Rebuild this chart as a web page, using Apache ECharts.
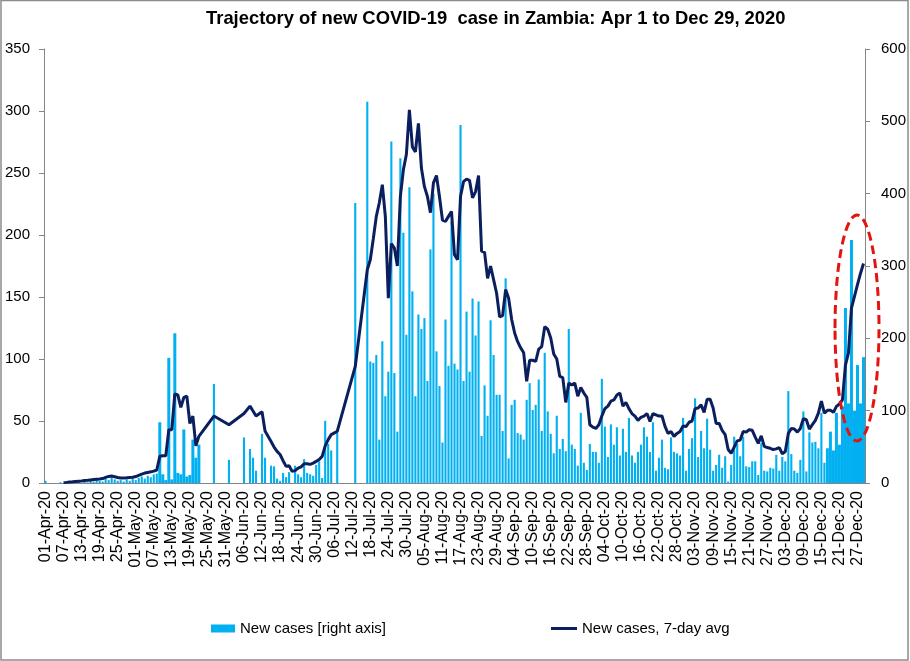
<!DOCTYPE html>
<html>
<head>
<meta charset="utf-8">
<title>Zambia COVID-19</title>
<script src="https://cdn.jsdelivr.net/npm/echarts@6/dist/echarts.min.js"></script>
<style>
    html, body {margin: 0; padding: 0; background: #fff;}
    #chart {width: 910px; height: 661px;}
</style>
</head>
<body>
<div id="chart"></div>
<script>
// daily new cases (right axis), 01-Apr-20 .. 29-Dec-20
var newCases = [
    3, null, null, null, 0, 1, 0, 1, 1, 0,
    3, 2, 0, 2, 1, 3, 2, 4, 3, 2,
    6, 4, 8, 5, 3, 4, 2, 5, 3, 6,
    4, 7, 9, 6, 10, 8, 12, 13, 84, 12,
    4, 173, 5, 207, 14, 12, 74, 9, 11, 60,
    35, 53, null, null, null, null, 137, null, null, null,
    null, 32, null, null, null, null, 63, null, 47, 35,
    17, null, 68, 35, null, 24, 23, 6, 3, 14,
    8, 15, null, 24, 12, 8, 33, 14, 12, 10,
    25, 30, 7, 86, 54, 45, null, 69, null, null,
    null, null, null, 387, null, null, null, 527, 168, 166,
    177, 60, 196, 120, 154, 472, 152, 71, 449, 346,
    205, 409, 265, 120, 233, 213, 228, 141, 323, 400,
    182, 134, 56, 226, 162, 362, 165, 157, 495, 141,
    237, 154, 255, 204, 251, 65, 135, 93, 225, 177,
    122, 122, 72, 283, 34, 108, 115, 69, 67, 60,
    115, 138, 101, 108, 143, 72, 180, 99, 68, 41,
    93, 47, 61, 44, 213, 53, 47, 24, 97, 28,
    18, 54, 43, 43, 28, 144, 78, 36, 81, 53,
    77, 38, 75, 43, 90, 38, 28, 43, 53, 77,
    64, 43, 84, 17, 35, 60, 21, 19, 63, 43,
    41, 38, 90, 17, 47, 62, 117, 36, 72, 48,
    89, 46, 17, 25, 39, 21, 37, 2, 25, 64,
    54, 37, 64, 23, 22, 30, 30, 11, 55, 17,
    16, 21, 20, 39, 17, 36, 30, 127, 40, 17,
    14, 32, 99, 16, 70, 56, 57, 48, 97, 28,
    48, 71, 45, 97, 53, 106, 242, 110, 336, 100,
    163, 110, 174
];

// 7-day average (left axis)
var avg7 = [
    null, null, null, null, null, null, 0.3, 0.5, 0.8, 1,
    1.3, 1.5, 1.7, 2, 2.2, 2.5, 2.8, 3, 3.2, 3.6,
    4.5, 5.3, 5.6, 5.1, 4.5, 4.1, 4, 4.2, 4.5, 4.6,
    5.2, 6.2, 7.2, 8, 8.5, 9, 9.6, 10.5, 21.5, 22,
    22, 43, 43, 71.8, 71, 61, 69, 70, 48, 54,
    30, 37.6, null, null, null, null, 54, null, null, null,
    null, 47, null, null, null, null, 56, null, 62, 58,
    54, null, 57.5, 42, null, 33.5, 29, 25.5, 23, 18,
    13.4, 14, 9.4, 10, 12, 13, 15.6, 15.5, 15, 16,
    17.4, 19, 21.5, 30, 35, 39, null, 41.6, null, null,
    null, null, null, 94, null, null, null, 172, 180, 197,
    215, 226, 240.6, 215, 149, 193, 189.5, 175, 231, 252.6,
    265, 301, 271, 267, 290, 254, 239, 231, 218, 242,
    248, 231, 212, 211, 215, 219, 184, 180, 231, 243,
    245, 244, 230, 235, 248, 187, 186, 165, 175, 164,
    153, 134, 135, 156, 149, 132, 121, 114, 109, 105,
    82, 99, 99, 98, 108, 110, 126, 124, 117, 104,
    100, 86, 85, 65, 80.6, 79, 80.6, 70, 77, 72.6,
    69, 47, 45, 44, 47, 54, 60, 62, 66, 67,
    71, 72.6, 62, 65, 60, 56, 54, 50.5, 53, 54,
    56, 49.7, 56, 55, 54, 54, 45.6, 40, 41.6, 37.6,
    40, 41.6, 46, 45.5, 49, 50, 60, 60.5, 63, 57,
    67.5, 67.5, 60.5, 48, 48, 42.5, 39, 27, 24, 29,
    34, 34.6, 41.6, 41, 43, 42.5, 37, 32, 38, 29.5,
    28.6, 28, 27, 27.5, 28.6, 23.6, 25.4, 40, 44, 43.5,
    41, 44, 51.9, 51, 43.5, 47, 50.5, 56.4, 66, 56.4,
    58.6, 58.6, 57, 61.8, 63.7, 67, 95, 105, 141, 150.5,
    160, 169, 177
];

// day ranges where the bars in the picture are drawn full width (no gap)
var wideRanges = [[38, 51], [260, 272]];

var monthNames = ['Jan', 'Feb', 'Mar', 'Apr', 'May', 'Jun', 'Jul', 'Aug', 'Sep', 'Oct', 'Nov', 'Dec'];

// 日期标签 01-Apr-20 ... 29-Dec-20
var days = [];
(function () {
    var d = new Date(2020, 3, 1);
    for (var i = 0; i < newCases.length; i++) {
        var dd = d.getDate();
        days.push((dd < 10 ? '0' + dd : dd) + '-' + monthNames[d.getMonth()] + '-20');
        d.setDate(d.getDate() + 1);
    }
})();

function isWide(i) {
    for (var k = 0; k < wideRanges.length; k++) {
        if (i >= wideRanges[k][0] && i <= wideRanges[k][1]) return true;
    }
    return false;
}

var narrowBars = newCases.map(function (v, i) { return isWide(i) ? null : v; });
var wideBars = newCases.map(function (v, i) { return isWide(i) ? v : null; });

var font = "'Liberation Sans', Arial, sans-serif";
var axisGray = '#868686';
var barBlue = '#00b0f0';
var navy = '#0b1f5e';

var myChart = echarts.init(document.getElementById('chart'), null, {renderer: 'canvas'});

var option = {
    animation: false,
    backgroundColor: '#fff',
    title: {
        text: 'Trajectory of new COVID-19  case in Zambia: Apr 1 to Dec 29, 2020',
        left: 201,
        top: 5,
        textStyle: {
            fontFamily: font,
            fontSize: 18.4,
            fontWeight: 'bold',
            color: '#000'
        }
    },
    legend: [{
        data: [{name: 'New cases [right axis]', icon: 'rect'}],
        left: 206,
        top: 616,
        itemWidth: 24,
        itemHeight: 8,
        textStyle: {fontFamily: font, fontSize: 15, color: '#000'}
    }, {
        data: [{name: 'New cases, 7-day avg', icon: 'rect'}],
        left: 546,
        top: 616,
        itemWidth: 26,
        itemHeight: 3,
        textStyle: {fontFamily: font, fontSize: 15, color: '#000'}
    }],
    grid: {
        left: 44,
        right: 45,
        top: 49,
        bottom: 178,
        containLabel: false
    },
    xAxis: [{
        type: 'category',
        data: days,
        boundaryGap: true,
        axisLine: {lineStyle: {color: axisGray}},
        axisTick: {interval: 5, alignWithLabel: false, length: 5, lineStyle: {color: axisGray}},
        axisLabel: {
            interval: 5,
            rotate: 90,
            margin: 8,
            fontFamily: font,
            fontSize: 16,
            color: '#000'
        },
        splitLine: {show: false}
    }, {
        // hidden twin axis, only so the wide bars get their own layout
        type: 'category',
        data: days,
        boundaryGap: true,
        show: false
    }],
    yAxis: [{
        type: 'value',
        min: 0,
        max: 350,
        interval: 50,
        position: 'left',
        axisLine: {show: true, lineStyle: {color: axisGray}},
        axisTick: {show: true, length: 5, lineStyle: {color: axisGray}},
        axisLabel: {margin: 14, fontFamily: font, fontSize: 15, color: '#000'},
        splitLine: {show: false}
    }, {
        type: 'value',
        min: 0,
        max: 600,
        interval: 100,
        position: 'right',
        axisLine: {show: true, lineStyle: {color: axisGray}},
        axisTick: {show: true, length: 5, lineStyle: {color: axisGray}},
        axisLabel: {margin: 16, fontFamily: font, fontSize: 15, color: '#000'},
        splitLine: {show: false}
    }],
    series: [{
        name: 'New cases [right axis]',
        type: 'bar',
        xAxisIndex: 0,
        yAxisIndex: 1,
        barCategoryGap: '30%',
        itemStyle: {color: barBlue},
        data: narrowBars
    }, {
        name: 'New cases [right axis]',
        type: 'bar',
        xAxisIndex: 1,
        yAxisIndex: 1,
        barCategoryGap: '0%',
        itemStyle: {color: barBlue},
        data: wideBars
    }, {
        name: 'New cases, 7-day avg',
        type: 'line',
        xAxisIndex: 0,
        yAxisIndex: 0,
        showSymbol: false,
        symbol: 'none',
        connectNulls: true,
        lineStyle: {color: navy, width: 3},
        itemStyle: {color: navy},
        z: 3,
        data: avg7
    }],
    graphic: [{
        // 外框
        type: 'rect',
        shape: {x: 1, y: 0.5, width: 907, height: 659.5},
        style: {fill: null, stroke: '#8c8c8c', lineWidth: 1.5},
        silent: true
    }, {
        // 红色虚线椭圆
        type: 'ellipse',
        shape: {cx: 857, cy: 328, rx: 22, ry: 113},
        style: {fill: null, stroke: '#e3140f', lineWidth: 3, lineDash: [9, 5]},
        z: 100,
        silent: true
    }]
};
myChart.setOption(option);
</script>
</body>
</html>
